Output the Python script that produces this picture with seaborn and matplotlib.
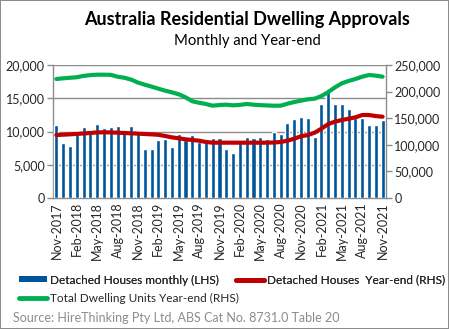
import numpy as np
import pandas as pd
import matplotlib
matplotlib.use("Agg")
import matplotlib.pyplot as plt
import seaborn as sns
from matplotlib.lines import Line2D
from matplotlib.patches import Patch

months = pd.date_range("2017-11-01", "2021-11-01", freq="MS").strftime("%b-%Y").tolist()

detached_monthly = [
    10950, 8250, 7800, 10050, 10650, 10000, 11100, 10500, 10650, 10800,
    9700, 10800, 10050, 7350, 7350, 8700, 8850, 7650, 9600, 8700,
    9450, 8450, 8400, 9000, 9000, 7350, 6750, 8700, 9150, 9020,
    9170, 8870, 9970, 9620, 11280, 11880, 12180, 12030, 9170, 14140,
    16240, 14140, 14140, 13380, 11980, 12030, 10980, 10980, 11730,
]
detached_yearend = [
    118400, 119000, 119700, 120500, 121300, 122300, 123300, 123500, 123300, 122800,
    122200, 121600, 121000, 120300, 119600, 118800, 116500, 114000, 112200, 110300,
    109000, 107700, 105300, 104000, 104000, 104000, 104000, 104000, 104000, 104000,
    104000, 104000, 104300, 105300, 107700, 111500, 116000, 118400, 122800, 130300,
    139000, 143500, 146600, 149000, 151600, 156000, 156000, 154000, 152800,
]
total_yearend = [
    223700, 225000, 226000, 227000, 229500, 231000, 231800, 231800, 231500, 228000,
    226000, 222500, 217000, 213000, 209400, 205500, 201700, 198600, 195000, 189300,
    181800, 179000, 176700, 173500, 174800, 175400, 174200, 175000, 176700, 175400,
    174500, 174000, 173500, 173500, 177300, 180400, 183000, 185500, 186700, 191700,
    199200, 208000, 215600, 220000, 223700, 228000, 231200, 230000, 228000,
]

df = pd.DataFrame({
    "month": months,
    "idx": np.arange(len(months)),
    "detached": detached_monthly,
    "det_ye": detached_yearend,
    "tot_ye": total_yearend,
})

sns.set_theme(style="white")
plt.rcParams["font.family"] = ["Lato", "DejaVu Sans"]

BLUE = "#00559A"
RED = "#C00000"
GREEN = "#00B050"
GRID = "#8C8C8C"

fig = plt.figure(figsize=(4.49, 3.29), dpi=100)
fig.patch.set_facecolor("white")
fig.patch.set_edgecolor("#8C8C8C")
fig.patch.set_linewidth(1.2)

ax = fig.add_axes([53 / 449, 1 - 198 / 329, (386 - 53) / 449, (198 - 65) / 329])
ax.set_axisbelow(True)
ax.yaxis.grid(True, color=GRID, linewidth=1.0)
sns.barplot(data=df, x="idx", y="detached", color=BLUE, width=0.6,
            saturation=1, ax=ax)
for p in ax.patches:
    p.set_zorder(3)
ax.set_xlim(-0.5, len(months) - 0.5)
ax.set_ylim(0, 20000)
ax.set_yticks([0, 5000, 10000, 15000, 20000])
ax.set_yticklabels([f"{v:,}" for v in [0, 5000, 10000, 15000, 20000]], fontsize=9)

ax.set_xticks(np.arange(-0.5, len(months) - 0.5, 3))
ax.set_xticklabels([])
ax.set_xticks(np.arange(0, len(months), 3), minor=True)
ax.set_xticklabels(months[::3], minor=True, rotation=90, fontsize=9)
ax.tick_params(axis="x", which="major", direction="out", length=4, color=GRID, width=1)
ax.tick_params(axis="x", which="minor", length=0, pad=3)
ax.tick_params(axis="y", direction="out", length=4, color=GRID, width=1, pad=2, left=True)
ax.set_xlabel("")
ax.set_ylabel("")
for s in ["top", "right"]:
    ax.spines[s].set_visible(False)
for s in ["left", "bottom"]:
    ax.spines[s].set_color(GRID)
    ax.spines[s].set_linewidth(1.0)

ax2 = ax.twinx()
sns.lineplot(data=df, x="idx", y="tot_ye", color=GREEN, linewidth=3.0, ax=ax2)
sns.lineplot(data=df, x="idx", y="det_ye", color=RED, linewidth=3.0, ax=ax2)
ax2.set_ylim(0, 250000)
ax2.set_yticks(np.arange(0, 250001, 50000))
ax2.set_yticklabels([f"{v:,}" for v in range(0, 250001, 50000)], fontsize=9)
ax2.tick_params(axis="y", direction="out", length=4, color=GRID, width=1, pad=2, right=True)
ax2.set_ylabel("")
ax2.set_xlabel("")
ax2.set_xlim(-0.5, len(months) - 0.5)
for s in ["top", "left", "bottom"]:
    ax2.spines[s].set_visible(False)
ax2.spines["right"].set_color(GRID)
ax2.spines["right"].set_linewidth(1.0)

fig.text(247 / 449, 1 - 20 / 329, "Australia Residential Dwelling Approvals",
         ha="center", va="center", fontsize=13, fontweight="bold", color="black")
fig.text(247 / 449, 1 - 41 / 329, "Monthly and Year-end",
         ha="center", va="center", fontsize=10.7, color="black")

h_blue = Patch(facecolor=BLUE, edgecolor="none")
h_red = Line2D([], [], color=RED, linewidth=3.5)
h_green = Line2D([], [], color=GREEN, linewidth=3.5)
leg_kw = dict(frameon=False, fontsize=8.5, handlelength=2.4, handleheight=0.45,
              handletextpad=0.2, borderpad=0, borderaxespad=0)
leg1 = fig.legend([h_blue], ["Detached Houses monthly (LHS)"],
                  loc="center left", bbox_to_anchor=(19 / 449, 1 - 280 / 329), **leg_kw)
leg2 = fig.legend([h_red], ["Detached Houses  Year-end (RHS)"],
                  loc="center left", bbox_to_anchor=(236 / 449, 1 - 280 / 329), **leg_kw)
leg3 = fig.legend([h_green], ["Total Dwelling Units Year-end (RHS)"],
                  loc="center left", bbox_to_anchor=(19 / 449, 1 - 298 / 329), **leg_kw)
fig.add_artist(leg1)
fig.add_artist(leg2)

fig.text(13 / 449, 1 - 318 / 329, "Source: HireThinking Pty Ltd, ABS Cat No. 8731.0 Table 20",
         ha="left", va="center", fontsize=9, color="#8C8C8C")

fig.savefig("out.png", dpi=100)
